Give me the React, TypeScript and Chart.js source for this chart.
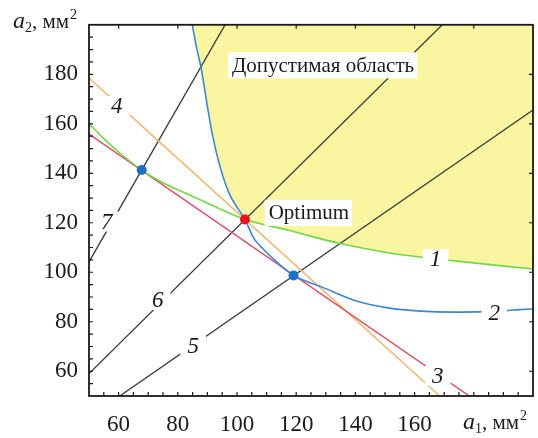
import React, { useEffect, useRef } from 'react';
import { Chart, registerables } from 'chart.js';

Chart.register(...registerables);

// ---------- data ----------
const xRange = [50, 200];
const yRange = [50, 200];
const xTicks = [60, 80, 100, 120, 140, 160, 180];
const xTickLabels = ['60', '80', '100', '120', '140', '160', ''];
const yTicks = [60, 80, 100, 120, 140, 160, 180];
const yTickLabels = ['60', '80', '100', '120', '140', '160', '180'];
const minorStep = 5;

// curve 1 (green)
const curve1X = [50, 55, 60, 67.8, 75, 87.2, 95, 102.7, 110, 117.4, 124.2, 134.2, 151, 173.5, 200];
const curve1Y = [160, 154, 148.6, 141.3, 136.2, 129.5, 125.2, 121.3, 119, 117, 114.8, 111.8, 107.9, 104.6, 101.3];

// curve 2 (blue)
const curve2X = [84.9, 86.3, 87.9, 89.8, 91.7, 94.2, 97.3, 100.1, 102.7, 105.7, 108.5, 113, 119.1, 128.6, 139.8, 151, 162.1, 173.4, 184, 195.6, 200.7];
const curve2Y = [200, 191, 182.4, 168.5, 155.5, 143, 132, 126.1, 121.3, 113.7, 109.8, 104.6, 98.7, 94.1, 88.6, 85.6, 84.3, 83.9, 84.1, 84.9, 85.3];

// line 3 (red) and line 4 (orange)
const line3X = [50, 178.5];
const line3Y = [155.8, 50];
const line4X = [50, 168.5];
const line4Y = [178.5, 50];

// rays 5, 6, 7 through the origin: a2 / a1
const rayRatios = [0.828, 1.181, 2.084];
const rayX = [0, 200];

// marked points
const criticalX = [67.8, 119.1];
const criticalY = [141.3, 98.7];
const optimumX = [102.7];
const optimumY = [121.3];

// texts
const curveLabels = ['1', '2', '3', '4', '5', '6', '7'];
const regionText = 'Допустимая область';
const optimumText = 'Optimum';
const axisUnit = ', мм';

// ---------- styling / placement ----------
const SERIF = '"Liberation Serif", Tinos, "Times New Roman", serif';
Chart.defaults.font.family = SERIF;
const curveLabelAnchors = [
  [167.1, 105.2],
  [186.9, 83.7],
  [167.8, 58.2],
  [59.4, 167.1],
  [85.2, 70.4],
  [73.2, 88.8],
  [56.0, 120.5],
];
const regionAnchor = [98.3, 183.6];
const optimumAnchor = [110.7, 124.0];

const pts = (xs: number[], ys: number[]) => xs.map((x, i) => ({ x, y: ys[i] }));

const decor = {
  id: 'decor',
  afterDatasetsDraw(chart: any) {
    const { ctx, scales } = chart;
    const sx = scales.x;
    const sy = scales.y;
    ctx.save();
    // curve numbers
    ctx.font = `italic 23px ${SERIF}`;
    ctx.textAlign = 'center';
    ctx.textBaseline = 'middle';
    curveLabels.forEach((t, i) => {
      const px = sx.getPixelForValue(curveLabelAnchors[i][0]);
      const py = sy.getPixelForValue(curveLabelAnchors[i][1]);
      const w = ctx.measureText(t).width + 14;
      ctx.fillStyle = '#ffffff';
      ctx.fillRect(px - w / 2, py - 10, w, 20);
      ctx.fillStyle = '#1a1a1a';
      ctx.fillText(t, px, py + 1);
    });
    // region text + optimum
    ctx.font = `21px ${SERIF}`;
    ctx.textAlign = 'left';
    [[regionText, regionAnchor], [optimumText, optimumAnchor]].forEach(([t, a]: any) => {
      const px = sx.getPixelForValue(a[0]);
      const py = sy.getPixelForValue(a[1]);
      const w = ctx.measureText(t).width;
      ctx.fillStyle = '#ffffff';
      ctx.fillRect(px - 4, py - 13, w + 7, 26);
      ctx.fillStyle = '#1a1a1a';
      ctx.fillText(t, px, py + 1);
    });
    ctx.restore();
  },
  afterDraw(chart: any) {
    const { ctx, chartArea: a, scales } = chart;
    const sx = scales.x;
    const sy = scales.y;
    ctx.save();
    ctx.strokeStyle = '#1a1a1a';
    ctx.lineWidth = 1.8;
    ctx.strokeRect(a.left, a.top, a.right - a.left, a.bottom - a.top);
    ctx.lineWidth = 1.2;
    const tl = 4;
    ctx.beginPath();
    for (let v = xRange[0] + minorStep; v < xRange[1]; v += minorStep) {
      const px = sx.getPixelForValue(v);
      ctx.moveTo(px, a.bottom);
      ctx.lineTo(px, a.bottom - tl);
    }
    for (let v = yRange[0] + minorStep; v < yRange[1]; v += minorStep) {
      const py = sy.getPixelForValue(v);
      ctx.moveTo(a.left, py);
      ctx.lineTo(a.left + tl, py);
    }
    xTicks.forEach((v) => {
      const px = sx.getPixelForValue(v);
      ctx.moveTo(px, a.top);
      ctx.lineTo(px, a.top + tl);
    });
    yTicks.forEach((v) => {
      const py = sy.getPixelForValue(v);
      ctx.moveTo(a.right, py);
      ctx.lineTo(a.right - tl, py);
    });
    ctx.stroke();

    // axis titles
    const drawTitle = (x: number, base: number, sub: string) => {
      ctx.fillStyle = '#1a1a1a';
      ctx.textAlign = 'left';
      ctx.textBaseline = 'alphabetic';
      ctx.font = `italic 24px ${SERIF}`;
      ctx.fillText('a', x, base);
      let cx = x + ctx.measureText('a').width;
      ctx.font = `14px ${SERIF}`;
      ctx.fillText(sub, cx, base + 4);
      cx += ctx.measureText(sub).width;
      ctx.font = `21px ${SERIF}`;
      ctx.fillText(axisUnit, cx, base);
      cx += ctx.measureText(axisUnit).width + 1;
      ctx.font = `14px ${SERIF}`;
      ctx.fillText('2', cx, base - 9);
    };
    drawTitle(13, 28, '2');
    drawTitle(463, 429, '1');
    ctx.restore();
  },
};

export default function App() {
  const ref = useRef<HTMLCanvasElement | null>(null);
  useEffect(() => {
    if (!ref.current) return;
    const feasible = [
      ...pts(curve2X, curve2Y).filter((p) => p.x <= optimumX[0]),
      ...pts(curve1X, curve1Y).filter((p) => p.x > optimumX[0]),
    ];
    const common = { pointRadius: 0, fill: false, cubicInterpolationMode: 'monotone' as const };
    const rayColor = '#383838';
    const chart = new Chart(ref.current, {
      type: 'line',
      data: {
        datasets: [
          { data: feasible, ...common, fill: 'end', backgroundColor: 'rgb(250,245,160)', borderWidth: 0, order: 10 },
          ...rayRatios.map((r) => ({ data: rayX.map((x) => ({ x, y: x * r })), ...common, borderColor: rayColor, borderWidth: 1.3, order: 6 })),
          { data: pts(line4X, line4Y), ...common, borderColor: '#F1B574', borderWidth: 1.5, order: 5 },
          { data: pts(line3X, line3Y), ...common, borderColor: '#DE4F63', borderWidth: 1.5, order: 4 },
          { data: pts(curve1X, curve1Y), ...common, borderColor: '#70D845', borderWidth: 1.6, order: 3 },
          { data: pts(curve2X, curve2Y), ...common, borderColor: '#3D85D6', borderWidth: 1.6, order: 2 },
          { data: pts(criticalX, criticalY), showLine: false, pointRadius: 5, pointBackgroundColor: '#1F6FC4', pointBorderWidth: 0, order: 1 },
          { data: pts(optimumX, optimumY), showLine: false, pointRadius: 5, pointBackgroundColor: '#E8141E', pointBorderWidth: 0, order: 0 },
        ] as any,
      },
      options: {
        animation: false,
        responsive: false,
        maintainAspectRatio: false,
        layout: { padding: { left: 0, right: 2, top: 13, bottom: 0 } },
        plugins: { legend: { display: false }, tooltip: { enabled: false } },
        scales: {
          x: {
            type: 'linear',
            min: xRange[0],
            max: xRange[1],
            grid: { display: false, drawTicks: false },
            border: { display: false },
            afterBuildTicks: (s: any) => { s.ticks = xTicks.map((value) => ({ value })); },
            afterFit: (s: any) => { s.height = 42; },
            ticks: {
              autoSkip: false,
              maxRotation: 0,
              padding: 15,
              color: '#1a1a1a',
              font: { family: SERIF, size: 23 },
              callback: (v: any) => xTickLabels[xTicks.indexOf(Number(v))] ?? '',
            },
          },
          y: {
            type: 'linear',
            min: yRange[0],
            max: yRange[1],
            grid: { display: false, drawTicks: false },
            border: { display: false },
            afterBuildTicks: (s: any) => { s.ticks = yTicks.map((value) => ({ value })); },
            afterFit: (s: any) => { s.width = 89; },
            ticks: {
              autoSkip: false,
              padding: 11,
              color: '#1a1a1a',
              font: { family: SERIF, size: 23 },
              callback: (v: any) => yTickLabels[yTicks.indexOf(Number(v))] ?? '',
            },
          },
        },
      },
      plugins: [decor],
    });
    let alive = true;
    const redraw = () => { if (alive) chart.update(); };
    if ((document as any).fonts) {
      Promise.all([
        (document as any).fonts.load(`23px "Liberation Serif"`),
        (document as any).fonts.load(`italic 23px "Liberation Serif"`),
      ]).then(redraw, redraw);
    }
    const t = setTimeout(redraw, 150);
    return () => { alive = false; clearTimeout(t); chart.destroy(); };
  }, []);
  return (
    <div style={{ position: 'fixed', left: 0, top: 0, width: 538, height: 438, background: '#fff' }}>
      <canvas ref={ref} width={538} height={438} style={{ display: 'block' }} />
    </div>
  );
}
